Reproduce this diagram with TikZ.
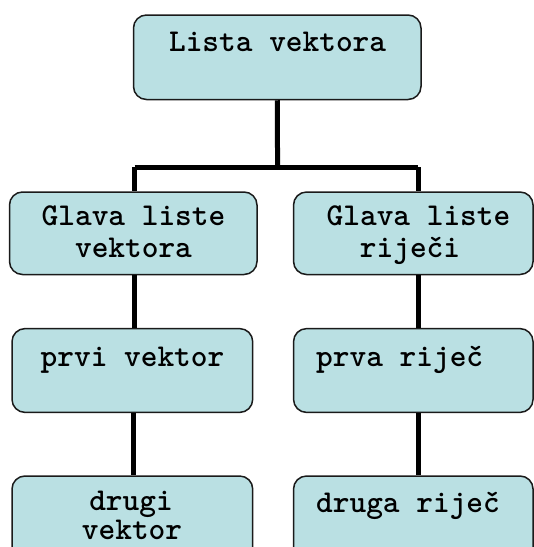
\documentclass[tikz,border=0pt]{standalone}
\definecolor{boxfill}{HTML}{BAE0E3}
\definecolor{boxline}{HTML}{1A1A1A}
\begin{document}
\begin{tikzpicture}[x=1pt,y=-1pt,
  box/.style={draw=boxline,line width=1.5pt,fill=boxfill,rounded corners=13pt,
    rectangle,inner sep=0pt},
  lbl/.style={font=\ttfamily\bfseries\fontsize{31.8}{36}\selectfont,inner sep=0pt,anchor=base},
  conn/.style={line width=5pt,black}]
\useasboundingbox (0,0) rectangle (534,547);
\clip (0,0) rectangle (534,547);
% boxes
\node[box,minimum width=287.5pt,minimum height=84.5pt] (top) at (277.25,57.25) {};
\node[box,minimum width=247.5pt,minimum height=82.5pt] (L2) at (133.25,233.25) {};
\node[box,minimum width=239.5pt,minimum height=82.5pt] (R2) at (413.3,233.25) {};
\node[box,minimum width=240.7pt,minimum height=83.8pt] (L3) at (132.35,370.5) {};
\node[box,minimum width=239.5pt,minimum height=83.8pt] (R3) at (413.3,370.5) {};
\node[box,minimum width=240.7pt,minimum height=84pt] (L4) at (132.35,518) {};
\node[box,minimum width=239.5pt,minimum height=84pt] (R4) at (413.3,518) {};
% connectors
\coordinate (j) at (277.6,167);
\coordinate (jl) at (134.5,167);
\coordinate (jr) at (418,167);
\draw[conn] (top.south) -- (j);
\draw[conn] (jl) -- (jr);
\draw[conn] (jl) -- (L2.north -| jl);
\draw[conn] (jr) -- (R2.north -| jr);
\draw[conn] (L2.south -| jl) -- (L3.north -| jl);
\draw[conn] (R2.south -| jr) -- (R3.north -| jr);
\coordinate (cl) at (133,0);
\draw[conn] (L3.south -| cl) -- (L4.north -| cl);
\draw[conn] (R3.south -| jr) -- (R4.north -| jr);
% texts
\node[lbl] (t0) at (277.6,51) {Lista vektora};
\node[lbl] (t1a) at (133.5,225.5) {Glava liste};
\node[lbl] (t1b) at (133.5,257) {vektora};
\node[lbl] (t2a) at (418.5,225.5) {Glava liste};
\node[lbl] (t2b) at (410,257) {riječi};
\node[lbl] (t3) at (132.5,366) {prvi vektor};
\node[lbl,anchor=base west] (t4) at (316,366) {prva riječ};
\node[lbl] (t5a) at (131,510) {drugi};
\node[lbl] (t5b) at (132,539) {vektor};
\node[lbl,anchor=base west] (t6) at (316,512) {druga riječ};
\end{tikzpicture}
\end{document}
